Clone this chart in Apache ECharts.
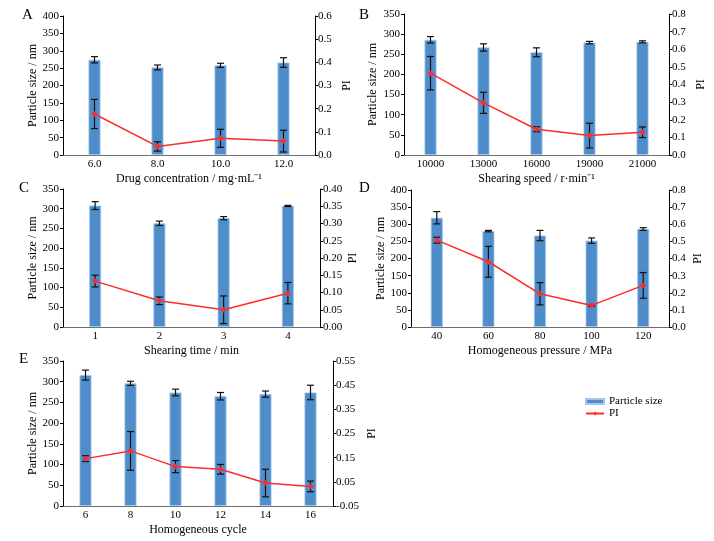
<!DOCTYPE html>
<html>
<head>
<meta charset="utf-8">
<script src="https://cdn.jsdelivr.net/npm/echarts@6/dist/echarts.min.js"></script>
<style>
html,body{margin:0;padding:0;background:#fff;}
#chart{width:714px;height:541px;}
</style>
</head>
<body>
<div id="chart"></div>
<script>
// ---- Data ----
const catsA = ['6.0', '8.0', '10.0', '12.0'];
const sizeA = [274, 252, 258, 266];
const sizeErrA = [9, 7, 6, 14];
const piA = [0.177, 0.037, 0.072, 0.060];
const piErrA = [0.063, 0.020, 0.039, 0.047];

const catsB = ['10000', '13000', '16000', '19000', '21000'];
const sizeB = [286, 267, 255, 279, 281];
const sizeErrB = [8, 9, 11, 3, 2.5];
const piB = [0.464, 0.296, 0.146, 0.110, 0.129];
const piErrB = [0.095, 0.060, 0.014, 0.070, 0.030];

const catsC = ['1', '2', '3', '4'];
const sizeC = [308, 263, 276, 307];
const sizeErrC = [10, 5.5, 4, 1.5];
const piC = [0.133, 0.076, 0.050, 0.098];
const piErrC = [0.017, 0.011, 0.040, 0.031];

const catsD = ['40', '60', '80', '100', '120'];
const sizeD = [319, 280, 267, 252, 286];
const sizeErrD = [18, 2, 15, 8, 4];
const piD = [0.507, 0.381, 0.194, 0.126, 0.243];
const piErrD = [0.017, 0.090, 0.065, 0.005, 0.075];

const catsE = ['6', '8', '10', '12', '14', '16'];
const sizeE = [316, 296, 274, 265, 270, 274];
const sizeErrE = [12, 5, 8, 9, 7.5, 17.5];
const piE = [0.146, 0.178, 0.113, 0.102, 0.045, 0.031];
const piErrE = [0.012, 0.080, 0.025, 0.020, 0.057, 0.022];

const xNames = ['Drug concentration / mg·mL⁻¹', 'Shearing speed / r·min⁻¹', 'Shearing time / min', 'Homogeneous pressure / MPa', 'Homogeneous cycle'];
const panelLetters = ['A', 'B', 'C', 'D', 'E'];

// ---- Styling / layout ----
const FONT = '"Liberation Serif", "Times New Roman", serif';
const BAR_COLOR = '#4f8dca';
const LINE_COLOR = '#ff2b2b';

const panels = [
  {cats: catsA, size: sizeA, sizeErr: sizeErrA, pi: piA, piErr: piErrA,
   grid: {left: 63, top: 16, width: 252, height: 139},
   yL: {max: 400, interval: 50}, yR: {min: 0, max: 0.6, interval: 0.1, dec: 1},
   gapL: 24, gapR: 26, letter: [22, 8]},
  {cats: catsB, size: sizeB, sizeErr: sizeErrB, pi: piB, piErr: piErrB,
   grid: {left: 404, top: 14, width: 265, height: 141},
   yL: {max: 350, interval: 50}, yR: {min: 0, max: 0.8, interval: 0.1, dec: 1},
   gapL: 25, gapR: 26, letter: [359, 8]},
  {cats: catsC, size: sizeC, sizeErr: sizeErrC, pi: piC, piErr: piErrC,
   grid: {left: 63, top: 189, width: 257, height: 138},
   yL: {max: 350, interval: 50}, yR: {min: 0, max: 0.4, interval: 0.05, dec: 2},
   gapL: 24, gapR: 27, letter: [19, 181]},
  {cats: catsD, size: sizeD, sizeErr: sizeErrD, pi: piD, piErr: piErrD,
   grid: {left: 411, top: 190, width: 258, height: 137},
   yL: {max: 400, interval: 50}, yR: {min: 0, max: 0.8, interval: 0.1, dec: 1},
   gapL: 23, gapR: 23, letter: [359, 181]},
  {cats: catsE, size: sizeE, sizeErr: sizeErrE, pi: piE, piErr: piErrE,
   grid: {left: 63, top: 361, width: 270, height: 145},
   yL: {max: 350, interval: 50}, yR: {min: -0.05, max: 0.55, interval: 0.1, dec: 2},
   gapL: 24, gapR: 33, letter: [19, 352]}
];

function errorRender(params, api) {
  const x = api.value(0);
  const v = api.value(1);
  const e = api.value(2);
  const top = api.coord([x, v + e]);
  const bot = api.coord([x, v - e]);
  const hw = 3.5;
  const style = {stroke: '#111', lineWidth: 1.2};
  return {
    type: 'group',
    children: [
      {type: 'line', shape: {x1: top[0], y1: top[1], x2: bot[0], y2: bot[1]}, style: style},
      {type: 'line', shape: {x1: top[0] - hw, y1: top[1], x2: top[0] + hw, y2: top[1]}, style: style},
      {type: 'line', shape: {x1: bot[0] - hw, y1: bot[1], x2: bot[0] + hw, y2: bot[1]}, style: style}
    ]
  };
}

const grids = [], xAxes = [], yAxes = [], series = [], graphics = [];
panels.forEach((p, i) => {
  grids.push(p.grid);
  xAxes.push({
    type: 'category', gridIndex: i, data: p.cats,
    name: xNames[i], nameLocation: 'middle', nameGap: 18,
    nameTextStyle: {fontFamily: FONT, fontSize: 12, color: '#000'},
    axisLine: {lineStyle: {color: '#6e6e6e', width: 1}},
    axisTick: {show: false},
    axisLabel: {fontFamily: FONT, fontSize: 11, color: '#000', margin: 4}
  });
  yAxes.push({
    type: 'value', gridIndex: i, position: 'left', min: 0, max: p.yL.max, interval: p.yL.interval,
    name: 'Particle size / nm', nameLocation: 'middle', nameGap: p.gapL, nameRotate: 90,
    nameTextStyle: {fontFamily: FONT, fontSize: 12, color: '#000'},
    axisLine: {show: true, lineStyle: {color: '#000', width: 1}},
    axisTick: {show: true, inside: false, length: 3, lineStyle: {color: '#000'}},
    splitLine: {show: false},
    axisLabel: {fontFamily: FONT, fontSize: 11, color: '#000', margin: 4}
  });
  const dec = p.yR.dec;
  yAxes.push({
    type: 'value', gridIndex: i, position: 'right', min: p.yR.min, max: p.yR.max, interval: p.yR.interval,
    name: 'PI', nameLocation: 'middle', nameGap: p.gapR, nameRotate: 90,
    nameTextStyle: {fontFamily: FONT, fontSize: 12, color: '#000'},
    axisLine: {show: true, lineStyle: {color: '#000', width: 1}},
    axisTick: {show: true, inside: false, length: 3, lineStyle: {color: '#000'}},
    splitLine: {show: false},
    axisLabel: {fontFamily: FONT, fontSize: 11, color: '#000', margin: 3,
      formatter: v => (Math.abs(v) < 1e-9 ? 0 : v).toFixed(dec)}
  });
  const yl = i * 2, yr = i * 2 + 1;
  series.push({
    name: 'Particle size', type: 'bar', xAxisIndex: i, yAxisIndex: yl,
    data: p.size, barWidth: 12,
    itemStyle: {color: BAR_COLOR, borderColor: '#a3c7ea', borderWidth: 0.8},
    z: 2
  });
  series.push({
    type: 'custom', xAxisIndex: i, yAxisIndex: yl,
    data: p.size.map((v, k) => [k, v, p.sizeErr[k]]),
    encode: {x: 0, y: 1}, renderItem: errorRender, z: 4, silent: true
  });
  series.push({
    name: 'PI', type: 'line', xAxisIndex: i, yAxisIndex: yr,
    data: p.pi, symbol: 'diamond', symbolSize: 6,
    lineStyle: {color: LINE_COLOR, width: 1.5},
    itemStyle: {color: LINE_COLOR},
    z: 5
  });
  series.push({
    type: 'custom', xAxisIndex: i, yAxisIndex: yr,
    data: p.pi.map((v, k) => [k, v, p.piErr[k]]),
    encode: {x: 0, y: 1}, renderItem: errorRender, z: 4, silent: true
  });
  graphics.push({
    type: 'text', left: p.letter[0], top: p.letter[1],
    style: {text: panelLetters[i], font: '15px ' + FONT, fill: '#000'}
  });
});

const chart = echarts.init(document.getElementById('chart'), null, {renderer: 'canvas'});
chart.setOption({
  animation: false,
  backgroundColor: '#fff',
  grid: grids,
  xAxis: xAxes,
  yAxis: yAxes,
  series: series,
  graphic: graphics,
  legend: {
    data: [{name: 'Particle size', icon: 'rect'}, {name: 'PI'}],
    orient: 'vertical', left: 580, top: 391,
    itemWidth: 18, itemHeight: 5, itemGap: 1,
    textStyle: {fontFamily: FONT, fontSize: 11, color: '#000', lineHeight: 10},
    selectedMode: false
  }
});
</script>
</body>
</html>
